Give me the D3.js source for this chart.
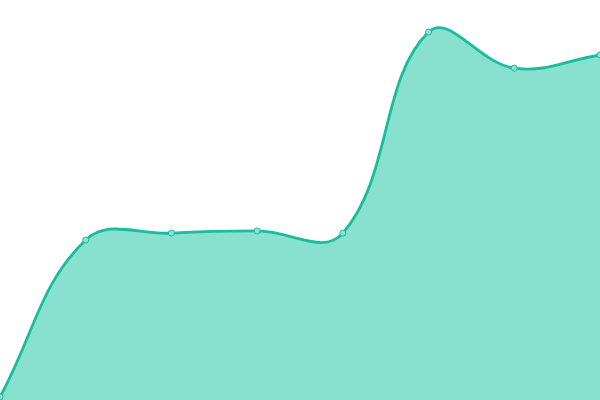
<!DOCTYPE html>
<html>
<head>
<meta charset="utf-8">
<script src="https://cdn.jsdelivr.net/npm/d3@7"></script>
<style>
  html, body { margin: 0; padding: 0; background: #fff; }
  svg { display: block; }
</style>
</head>
<body>
<div id="chart"></div>
<script>
// categories along x (no labels shown on the chart)
var categories = ["1", "2", "3", "4", "5", "6", "7", "8"];
// series values
var values = [0, 43, 44.9, 45.5, 44.9, 100, 90.1, 93.7];

var width = 600, height = 400;

// spline curve: control points from neighbours, weighted by segment length
function TensionCurve(context, t) { this._context = context; this._t = t; }
TensionCurve.prototype = {
  areaStart: function() { this._line = 0; },
  areaEnd: function() { this._line = NaN; },
  lineStart: function() { this._pts = []; },
  point: function(x, y) { this._pts.push([+x, +y]); },
  lineEnd: function() {
    var p = this._pts, n = p.length, c = this._context, t = this._t;
    if (n) {
      if (this._line) c.lineTo(p[0][0], p[0][1]);
      else c.moveTo(p[0][0], p[0][1]);
    }
    var cps = p.map(function(cur, i) {
      var prev = p[i > 0 ? i - 1 : i], next = p[i < n - 1 ? i + 1 : i];
      var d01 = Math.hypot(cur[0] - prev[0], cur[1] - prev[1]);
      var d12 = Math.hypot(next[0] - cur[0], next[1] - cur[1]);
      var s = d01 + d12, s01 = s ? d01 / s : 0, s12 = s ? d12 / s : 0;
      var fa = t * s01, fb = t * s12;
      return {
        px: cur[0] - fa * (next[0] - prev[0]), py: cur[1] - fa * (next[1] - prev[1]),
        nx: cur[0] + fb * (next[0] - prev[0]), ny: cur[1] + fb * (next[1] - prev[1])
      };
    });
    for (var i = 1; i < n; i++) {
      c.bezierCurveTo(cps[i - 1].nx, cps[i - 1].ny, cps[i].px, cps[i].py, p[i][0], p[i][1]);
    }
    if (this._line || (this._line !== 0 && n === 1)) c.closePath();
    this._line = 1 - this._line;
  }
};
var curve = function(context) { return new TensionCurve(context, 0.4); };

var svg = d3.select("#chart")
  .append("svg")
    .attr("width", width)
    .attr("height", height);

var x = d3.scalePoint()
  .domain(categories)
  .range([0, width]);

var y = d3.scaleLinear()
  .domain([0, 100])
  .range([397, 32]);

var data = categories.map(function(c, i){ return {cat: c, val: values[i]}; });

// filled area under the smooth line
var area = d3.area()
  .x(function(d){ return x(d.cat) })
  .y0(height)
  .y1(function(d){ return y(d.val) })
  .curve(curve);

var line = d3.line()
  .x(function(d){ return x(d.cat) })
  .y(function(d){ return y(d.val) })
  .curve(curve);

svg.append("path")
  .datum(data)
  .attr("d", area)
  .style("fill", "#88e0cf");

svg.append("path")
  .datum(data)
  .attr("d", line)
  .style("fill", "none")
  .attr("stroke", "#1abc9c")
  .attr("stroke-width", 2.8);

// small markers on every point
svg.selectAll("myCircles")
  .data(data)
  .enter()
  .append("circle")
    .attr("cx", function(d){ return x(d.cat) })
    .attr("cy", function(d){ return y(d.val) })
    .attr("r", 3)
    .style("fill", "#8de2d1")
    .attr("stroke", "#1abc9c")
    .attr("stroke-width", 1);
</script>
</body>
</html>
